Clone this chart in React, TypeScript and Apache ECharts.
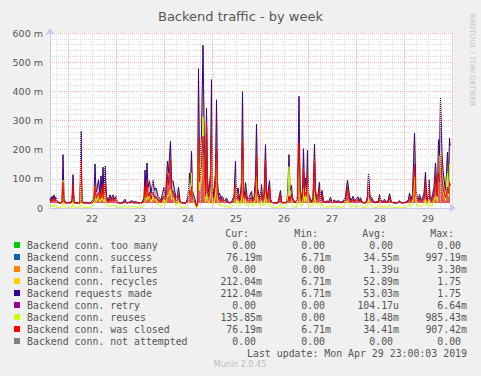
import React, { useEffect, useRef } from 'react';
import * as echarts from 'echarts';

// Time in hours since Apr 21 00:00 (graph spans Apr 21 15:00 .. Apr 30 00:00)
const hours = [
  15, 15.5, 16, 16.5, 17, 17.5, 18, 18.5, 19, 20, 21, 21.5, 22, 23, 24, 25, 26, 26.5, 27, 28, 29, 30, 30.5, 31, 32, 33, 34, 35, 36, 37,
  37.5, 38, 38.5, 39.25, 40, 40.5, 41, 41.5, 42, 42.5, 43.25, 44, 45, 45.5, 46, 46.5, 47, 48, 48.5, 49.5, 50.5, 51.5, 52.5, 53, 54, 55, 56, 57, 58, 59,
  60, 61, 62, 62.5, 63, 63.5, 64, 64.75, 65.5, 66.5, 67.25, 68, 69, 69.75, 70.5, 71.25, 72, 72.75, 73.75, 74.25, 75.25, 75.75, 76.5, 77.25, 78, 78.75, 79.25, 80, 81, 82,
  83, 84, 84.75, 85.25, 85.75, 86.25, 86.75, 87.5, 88.25, 88.75, 89.25, 89.75, 90.25, 90.75, 91.5, 92.25, 92.75, 93.25, 93.75, 94.25, 94.75, 95.25, 95.75, 96.25, 96.75, 97.25, 97.75, 98.25, 98.75, 99.25,
  99.75, 100.5, 101, 101.5, 102.25, 103.25, 104, 105, 106, 107, 107.75, 108.25, 109, 109.75, 110.25, 110.75, 111.25, 111.75, 112.25, 112.75, 113.5, 114, 114.75, 115.75, 116.25, 117, 117.75, 118.25, 118.75, 119.5,
  120, 120.75, 121.25, 122, 122.75, 123.25, 123.75, 124.75, 125.25, 126, 127, 128, 129, 130.25, 130.75, 131.5, 132.5, 133.5, 134, 134.5, 135, 135.75, 136.25, 137, 138, 138.75, 139.5, 140, 140.75, 141.25,
  141.75, 142.25, 142.75, 143.25, 143.75, 144.25, 144.75, 145.5, 146.5, 147.25, 147.75, 148.25, 149, 149.75, 150.25, 151, 151.75, 152.5, 153.5, 154.25, 155.25, 156, 157, 158, 159, 160, 161, 162, 162.75, 163.75,
  164.75, 165.5, 166.5, 167.25, 168, 169, 169.75, 170.25, 171, 172, 173, 173.75, 174.25, 175, 176, 176.75, 177.5, 178.5, 179.25, 179.75, 180.5, 181.5, 182.25, 183, 184, 184.75, 185.5, 186.5, 187.5, 188.5,
  189.75, 190.5, 191.5, 192.5, 193.5, 194.25, 194.75, 195.5, 196.25, 197.25, 198, 198.5, 199.25, 199.75, 200.5, 201.25, 202, 202.75, 203.25, 203.75, 204.25, 204.5, 205, 205.75, 206.25, 207, 207.75, 208.25, 208.75, 209.25,
  209.75, 210.25, 211, 211.5, 212, 212.75, 213.25, 213.75, 214.25, 214.75, 215
];

// Backend requests made (milli per second)
const requestsM = [
  35, 25, 40, 30, 45, 30, 38, 25, 20, 18, 22, 183, 30, 18, 17, 20, 24, 114, 22, 18, 17, 22, 263, 25, 17, 20, 17, 18, 22, 40,
  151, 55, 65, 97, 50, 110, 60, 140, 50, 143, 40, 25, 45, 30, 38, 45, 30, 40, 22, 17, 17, 20, 30, 20, 17, 22, 25, 20, 22, 18,
  17, 18, 35, 130, 60, 154, 70, 93, 50, 95, 60, 69, 40, 34, 25, 50, 71, 40, 160, 120, 229, 90, 93, 62, 35, 45, 71, 25, 17, 18,
  17, 40, 120, 80, 194, 60, 46, 30, 5, 8, 478, 150, 206, 250, 558, 180, 60, 343, 100, 55, 75, 120, 440, 70, 46, 80, 120, 371, 90, 40,
  51, 30, 40, 35, 25, 34, 22, 18, 25, 40, 160, 40, 69, 30, 50, 90, 399, 60, 45, 87, 40, 30, 40, 57, 30, 35, 100, 288, 70, 46,
  35, 80, 35, 40, 217, 50, 40, 94, 30, 20, 18, 18, 20, 60, 22, 18, 18, 25, 80, 183, 60, 78, 35, 25, 20, 40, 383, 80, 26, 60,
  203, 60, 103, 60, 198, 50, 40, 25, 30, 219, 60, 40, 45, 89, 30, 60, 25, 20, 25, 20, 37, 20, 28, 22, 25, 22, 20, 28, 40, 95,
  40, 25, 40, 25, 30, 38, 25, 35, 22, 18, 20, 40, 120, 40, 35, 22, 20, 22, 25, 46, 25, 22, 30, 20, 25, 49, 25, 20, 18, 18,
  25, 18, 18, 20, 22, 30, 51, 30, 45, 257, 60, 40, 30, 46, 28, 35, 50, 123, 40, 30, 55, 97, 40, 30, 45, 70, 154, 90, 60, 234,
  180, 377, 183, 130, 100, 60, 120, 192, 90, 240, 212
];

// Backend conn. reuses (milli per second)
const reusesM = [
  8, 3, 10, 5, 12, 5, 8, 5, 2, 1, 4, 95, 10, 1, 0, 3, 5, 30, 4, 1, 0, 5, 100, 6, 0, 3, 0, 1, 4, 15,
  75, 20, 25, 45, 20, 50, 25, 60, 20, 60, 12, 5, 12, 6, 8, 10, 6, 8, 3, 0, 0, 3, 8, 2, 0, 4, 6, 3, 4, 1,
  0, 1, 12, 55, 25, 60, 30, 40, 20, 40, 25, 30, 12, 8, 5, 18, 30, 12, 45, 40, 65, 30, 35, 20, 8, 12, 25, 5, 0, 1,
  0, 15, 60, 40, 120, 30, 20, 10, 0, 0, 238, 60, 80, 100, 312, 70, 20, 50, 30, 15, 25, 40, 190, 25, 12, 25, 40, 170, 30, 10,
  15, 6, 10, 8, 4, 8, 3, 1, 5, 15, 80, 12, 25, 6, 15, 30, 165, 20, 12, 30, 10, 6, 10, 20, 6, 8, 40, 110, 25, 12,
  8, 25, 8, 10, 50, 15, 10, 20, 6, 2, 1, 1, 3, 15, 3, 1, 1, 6, 55, 142, 35, 30, 8, 5, 2, 10, 160, 25, 4, 15,
  66, 20, 50, 20, 80, 15, 10, 5, 7, 50, 15, 10, 12, 20, 6, 15, 4, 2, 5, 2, 10, 2, 6, 3, 5, 3, 2, 6, 12, 25,
  10, 4, 10, 4, 6, 8, 4, 7, 3, 1, 2, 12, 35, 10, 8, 3, 2, 3, 4, 12, 4, 3, 6, 2, 4, 12, 4, 2, 1, 1,
  4, 1, 1, 2, 3, 6, 15, 6, 12, 108, 20, 10, 6, 12, 5, 8, 15, 30, 10, 6, 15, 27, 10, 6, 12, 25, 40, 35, 20, 114,
  90, 194, 90, 60, 45, 25, 70, 120, 40, 150, 136
];

// Backend conn. was closed (milli per second)
const closedM = [
  27, 22, 30, 25, 33, 25, 30, 20, 18, 17, 18, 88, 20, 17, 17, 17, 19, 84, 18, 17, 17, 17, 163, 19, 17, 17, 17, 17, 18, 25,
  76, 35, 40, 52, 30, 60, 35, 80, 30, 83, 28, 20, 33, 24, 30, 35, 24, 32, 19, 17, 17, 17, 22, 18, 17, 18, 19, 17, 18, 17,
  17, 17, 23, 75, 35, 94, 40, 53, 30, 55, 35, 39, 28, 26, 20, 32, 41, 28, 115, 80, 164, 60, 58, 42, 27, 33, 46, 20, 17, 17,
  17, 25, 60, 40, 74, 30, 26, 20, 5, 8, 240, 90, 126, 150, 246, 110, 40, 293, 70, 40, 50, 80, 250, 45, 34, 55, 80, 201, 60, 30,
  36, 24, 30, 27, 21, 26, 19, 17, 20, 25, 80, 28, 44, 24, 35, 60, 234, 40, 33, 57, 30, 24, 30, 37, 24, 27, 60, 178, 45, 34,
  27, 55, 27, 30, 167, 35, 30, 74, 24, 18, 17, 17, 17, 45, 19, 17, 17, 19, 25, 41, 25, 48, 27, 20, 18, 30, 223, 55, 22, 45,
  137, 40, 53, 40, 118, 35, 30, 20, 23, 169, 45, 30, 33, 69, 24, 45, 21, 18, 20, 18, 27, 18, 22, 19, 20, 19, 18, 22, 28, 70,
  30, 21, 30, 21, 24, 30, 21, 28, 19, 17, 18, 28, 85, 30, 27, 19, 18, 19, 21, 34, 21, 19, 24, 18, 21, 37, 21, 18, 17, 17,
  21, 17, 17, 18, 19, 24, 36, 24, 33, 149, 40, 30, 24, 34, 23, 27, 35, 93, 30, 24, 40, 70, 30, 24, 33, 45, 114, 55, 40, 120,
  90, 183, 93, 70, 55, 35, 50, 72, 50, 90, 76
];

// Series whose values stay at 0.00 for the whole week
const zeroM = [0, 0];
const zeroHours = [15, 215];

const dayLabels = ['22', '23', '24', '25', '26', '27', '28', '29'];

const legendNames = [
  'Backend conn. too many',
  'Backend conn. success',
  'Backend conn. failures',
  'Backend conn. recycles',
  'Backend requests made',
  'Backend conn. retry',
  'Backend conn. reuses',
  'Backend conn. was closed',
  'Backend conn. not attempted',
];
const legendColors = ['#00cc00', '#0066b3', '#ff8000', '#ffcc00', '#330099', '#990099', '#ccff00', '#ff0000', '#808080'];
const curVals = ['0.00', '76.19m', '0.00', '212.04m', '212.04m', '0.00', '135.85m', '76.19m', '0.00'];
const minVals = ['0.00', '6.71m', '0.00', '6.71m', '6.71m', '0.00', '0.00', '6.71m', '0.00'];
const avgVals = ['0.00', '34.55m', '1.39u', '52.89m', '53.03m', '104.17u', '18.48m', '34.41m', '0.00'];
const maxVals = ['0.00', '997.19m', '3.30m', '1.75', '1.75', '6.64m', '985.43m', '907.42m', '0.00'];
const colHeaders = ['Cur:', 'Min:', 'Avg:', 'Max:'];

const SANS = '"DejaVu Sans", sans-serif';
const MONO = '"DejaVu Sans Mono", monospace';

const X_MIN = 15 / 24; // Apr 21 15:00, in days since Apr 21 00:00
const X_MAX = 9; // Apr 30 00:00

function pts(hs: number[], vals: number[]) {
  return hs.map((h, i) => [h / 24, vals[i] / 1000]);
}

function buildOption() {
  const lineSeries = (name: string, color: string, data: number[][], extra: any = {}) => ({
    name,
    type: 'line',
    data,
    symbol: 'none',
    showSymbol: false,
    lineStyle: { color, width: 1 },
    itemStyle: { color },
    emphasis: { disabled: true },
    ...extra,
  });
  const zero = pts(zeroHours, zeroM);

  // vertical grid: red at each midnight, grey every 6 hours
  const dayLines: number[] = [];
  const sixHourLines: number[] = [];
  for (let d = 0; d <= 9; d++) {
    if (d > X_MIN && d <= X_MAX) dayLines.push(d);
    [0.25, 0.5, 0.75].forEach((q) => {
      if (d + q > X_MIN && d + q < X_MAX) sixHourLines.push(d + q);
    });
  }
  const gridSeries = (name: string, vals: number[], lineStyle: any) => ({
    name,
    type: 'line',
    data: [],
    z: 1,
    silent: true,
    markLine: {
      silent: true,
      symbol: ['none', 'none'],
      label: { show: false },
      emphasis: { disabled: true },
      animation: false,
      lineStyle,
      data: vals.map((v) => ({ xAxis: v })),
    },
  });

  const redGrid = { color: '#f4b0b0', type: [1, 1], width: 1 };
  const grayGrid = { color: '#dcdcdc', type: [1, 1], width: 1 };
  const axisCol = '#c6c8ec';

  const series = [
    gridSeries('grid6h', sixHourLines, grayGrid),
    gridSeries('gridDay', dayLines, redGrid),
    lineSeries(legendNames[0], legendColors[0], zero, { z: -1 }),
    lineSeries(legendNames[1], legendColors[1], pts(hours, closedM)),
    lineSeries(legendNames[2], legendColors[2], zero, { z: -1 }),
    lineSeries(legendNames[3], legendColors[3], pts(hours, requestsM)),
    lineSeries(legendNames[4], legendColors[4], pts(hours, requestsM), {
      areaStyle: { color: 'rgba(100,60,130,0.55)', origin: 0.017 },
    }),
    lineSeries(legendNames[5], legendColors[5], zero, { z: -1 }),
    lineSeries(legendNames[6], legendColors[6], pts(hours, reusesM)),
    lineSeries(legendNames[7], legendColors[7], pts(hours, closedM), {
      areaStyle: { color: 'rgba(255,10,0,0.8)', origin: 0.017 },
    }),
    lineSeries(legendNames[8], legendColors[8], zero, { z: -1 }),
  ];

  const cols = [262, 331, 399, 467];
  const rowY = (i: number) => 245 + 12 * i;
  const txt = (text: string, x: number, y: number, align: string, extra: any = {}) => ({
    type: 'text',
    x,
    y,
    silent: true,
    style: {
      text,
      fill: '#555',
      font: `9.9px ${MONO}`,
      align,
      textAlign: align,
      verticalAlign: 'middle',
      textVerticalAlign: 'middle',
      ...extra,
    },
  });
  const fmt = (s: string) => (/[a-z]$/i.test(s) ? s : s + '\u00a0');

  const graphic: any[] = [];
  colHeaders.forEach((h, c) => graphic.push(txt(h, cols[c] - 13, 233, 'right')));
  legendNames.forEach((n, i) => {
    const y = rowY(i);
    graphic.push({
      type: 'rect',
      silent: true,
      shape: { x: 14, y: y - 3, width: 6, height: 6 },
      style: { fill: legendColors[i] },
    });
    graphic.push(txt(n, 27, y, 'left'));
    [curVals, minVals, avgVals, maxVals].forEach((arr, c) => graphic.push(txt(fmt(arr[i]), cols[c], y, 'right')));
  });
  graphic.push(txt('Last update: Mon Apr 29 23:00:03 2019', 467, 353, 'right'));
  graphic.push(txt('Munin 2.0.45', 240, 364, 'center', { fill: '#bbb', font: `8px ${SANS}` }));
  graphic.push({
    type: 'text',
    x: 472,
    y: 60,
    rotation: -Math.PI / 2,
    silent: true,
    style: {
      text: 'RRDTOOL / TOBI OETIKER',
      fill: '#c4c4c4',
      font: `7.2px ${SANS}`,
      align: 'center',
      textAlign: 'center',
      verticalAlign: 'middle',
      textVerticalAlign: 'middle',
    },
  });

  return {
    animation: false,
    backgroundColor: '#f0f0f0',
    title: {
      text: 'Backend traffic - by week',
      left: 'center',
      top: 5,
      textStyle: { color: '#555', fontFamily: SANS, fontSize: 13, fontWeight: 'normal' },
    },
    grid: {
      left: 50,
      right: 29,
      top: 33,
      bottom: 168,
      show: true,
      backgroundColor: '#ffffff',
      borderWidth: 0,
      containLabel: false,
    },
    xAxis: {
      type: 'value',
      min: X_MIN,
      max: X_MAX,
      axisLine: {
        show: true,
        onZero: false,
        lineStyle: { color: axisCol, width: 1 },
        symbol: ['none', 'arrow'],
        symbolSize: [7, 7],
        symbolOffset: [0, 4],
      },
      axisTick: { show: false },
      axisLabel: {
        customValues: dayLabels.map((_, i) => i + 1.5),
        formatter: (v: number) => dayLabels[Math.round(v - 1.5)] ?? '',
        color: '#555',
        fontFamily: SANS,
        fontSize: 9.5,
        margin: 5,
      },
      splitLine: { show: false },
      minorSplitLine: { show: false },
    },
    yAxis: {
      type: 'value',
      min: 0,
      max: 0.6,
      interval: 0.1,
      axisLine: {
        show: true,
        onZero: false,
        lineStyle: { color: axisCol, width: 1 },
        symbol: ['none', 'arrow'],
        symbolSize: [7, 7],
        symbolOffset: [0, 5],
      },
      axisTick: { show: false },
      axisLabel: {
        formatter: (v: number) => (v === 0 ? '0' : `${Math.round(v * 1000)} m`),
        color: '#555',
        fontFamily: SANS,
        fontSize: 9.5,
        margin: 7,
      },
      splitLine: { show: true, showMinLine: false, lineStyle: redGrid },
      minorTick: { show: false, splitNumber: 5 },
      minorSplitLine: { show: true, lineStyle: grayGrid },
    },
    series,
    graphic,
  };
}

export default function App() {
  const ref = useRef<HTMLDivElement>(null);
  useEffect(() => {
    if (!ref.current) return;
    const chart = echarts.init(ref.current, undefined, { renderer: 'svg' });
    chart.setOption(buildOption() as any);
    return () => chart.dispose();
  }, []);
  return (
    <div
      ref={ref}
      style={{ position: 'fixed', left: 0, top: 0, width: 481, height: 376, background: '#f0f0f0' }}
    />
  );
}
